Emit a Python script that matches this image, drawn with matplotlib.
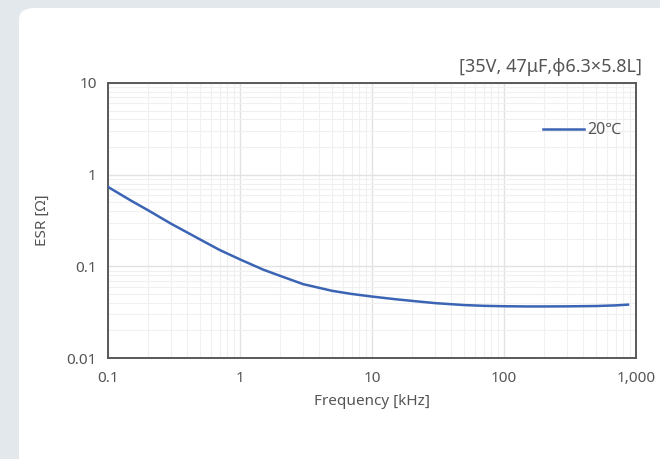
import matplotlib
matplotlib.use("Agg")
import matplotlib.pyplot as plt
from matplotlib.patches import FancyBboxPatch
from matplotlib.ticker import FixedLocator, LogLocator, NullFormatter

plt.rcParams["font.family"] = ["Noto Sans", "Noto Sans CJK JP", "DejaVu Sans"]

# ESR vs frequency
freq_khz = [0.1, 0.15, 0.2, 0.3, 0.5, 0.7, 1, 1.5, 2, 3, 5, 7, 10,
            15, 20, 30, 50, 70, 100, 150, 200, 300, 500, 700, 870]
esr_ohm = [0.735, 0.519, 0.411, 0.292, 0.196, 0.151, 0.119, 0.092, 0.079,
           0.064, 0.054, 0.050, 0.0468, 0.0438, 0.0420, 0.0397, 0.0378,
           0.0371, 0.0367, 0.0365, 0.0365, 0.0366, 0.0369, 0.0375, 0.0382]
series_label = "20℃"
x_ticks = [0.1, 1, 10, 100, 1000]
x_tick_labels = ["0.1", "1", "10", "100", "1,000"]
y_ticks = [0.01, 0.1, 1, 10]
y_tick_labels = ["0.01", "0.1", "1", "10"]
title = "[35V, 47μF,φ6.3×5.8L]"

W, H = 660, 459
fig = plt.figure(figsize=(W / 100, H / 100), dpi=100)
fig.patch.set_facecolor("#e3e8ec")

# white rounded card behind everything
card = FancyBboxPatch((19 / W, -20 / H), 660 / W, (H - 8 + 20) / H,
                      boxstyle="round,pad=0,rounding_size=0.025",
                      transform=fig.transFigure, facecolor="white",
                      edgecolor="none", zorder=-10)
fig.patches.append(card)

ax = fig.add_axes([108 / W, (H - 358) / H, 528 / W, 275 / H])
ax.set_zorder(5)
ax.set_facecolor("white")
ax.set_xscale("log")
ax.set_yscale("log")
ax.set_xlim(0.1, 1000)
ax.set_ylim(0.01, 10)

ax.plot(freq_khz, esr_ohm, color="#3b64b4", linewidth=1.8,
        label=series_label, zorder=3, solid_joinstyle="round")

ax.xaxis.set_major_locator(FixedLocator(x_ticks))
ax.set_xticklabels(x_tick_labels)
ax.yaxis.set_major_locator(FixedLocator(y_ticks))
ax.set_yticklabels(y_tick_labels)
ax.xaxis.set_minor_locator(LogLocator(base=10, subs=range(2, 10)))
ax.yaxis.set_minor_locator(LogLocator(base=10, subs=range(2, 10)))
ax.xaxis.set_minor_formatter(NullFormatter())
ax.yaxis.set_minor_formatter(NullFormatter())

ax.grid(True, which="major", color="#e2e2e2", linewidth=1.0)
ax.grid(True, which="minor", color="#f0f0f0", linewidth=0.8)
ax.set_axisbelow(True)

ax.tick_params(which="both", length=0, labelsize=11, colors="#555555")
ax.tick_params(axis="x", pad=9)
ax.tick_params(axis="y", pad=8)
for spine in ax.spines.values():
    spine.set_color("#595959")
    spine.set_linewidth(1.4)

ax.set_xlabel("Frequency [kHz]", fontsize=11, color="#555555", labelpad=6)
ax.set_ylabel("ESR [Ω]", fontsize=11, color="#555555", labelpad=12)

fig.text(642 / W, 1 - 67 / H, title, ha="right", va="center",
         fontsize=13, color="#555555")

ax.legend(loc="upper right", bbox_to_anchor=(1.0, 0.91), frameon=False,
          fontsize=11.5, labelcolor="#555555", handlelength=2.6,
          handletextpad=0.2)

fig.savefig("out.png", dpi=100, facecolor=fig.get_facecolor())
